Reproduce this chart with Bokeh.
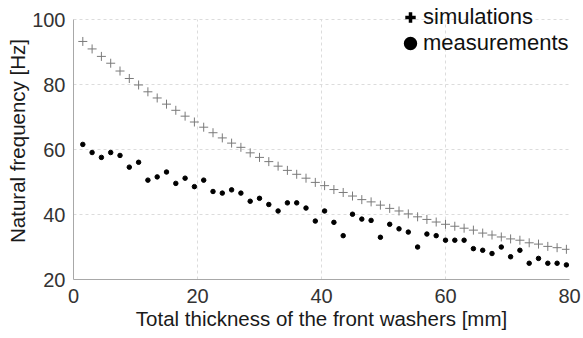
from bokeh.plotting import figure
from bokeh.models import ColumnDataSource, Legend, LegendItem, FixedTicker, Range1d
from bokeh.embed import file_html
from bokeh.resources import INLINE

# Data
thickness = [1.5 * k for k in range(1, 54)]  # 1.5 mm steps, 1.5 ... 79.5
simulations = [93.3, 91.0, 88.7, 86.6, 84.2, 81.9, 79.9, 77.8, 75.9, 74.0,
               72.1, 70.3, 68.5, 66.9, 65.2, 63.6, 62.0, 60.7, 59.0, 57.6,
               56.3, 54.9, 53.6, 52.4, 51.2, 49.9, 48.9, 47.7, 46.8, 45.7,
               44.6, 43.9, 42.9, 41.9, 41.1, 40.2, 39.3, 38.5, 37.7, 37.0,
               36.4, 35.8, 35.2, 34.3, 33.7, 33.1, 32.5, 32.1, 31.3, 30.9,
               30.2, 29.8, 29.3]
measurements = [61.6, 59.1, 57.6, 59.1, 58.2, 54.6, 56.1, 50.6, 51.6, 53.1,
                49.6, 51.2, 48.6, 50.6, 47.1, 46.6, 47.6, 46.6, 44.1, 45.0,
                43.1, 41.1, 43.6, 43.6, 42.0, 38.0, 41.1, 37.6, 33.5, 40.1,
                38.6, 38.2, 33.0, 37.0, 35.6, 34.6, 30.0, 34.0, 33.5, 32.1,
                32.1, 32.1, 29.5, 29.0, 28.0, 30.0, 27.0, 29.0, 25.0, 26.5,
                25.0, 25.0, 24.5]
x_ticks = [0, 20, 40, 60, 80]
y_ticks = [20, 40, 60, 80, 100]
series_names = ["simulations", "measurements"]

FONT = "Liberation Sans"

# y range extends a little above 100 so the legend (which sits above the top gridline) is not clipped
p = figure(width=583, height=338, output_backend="svg", toolbar_location=None,
           x_range=Range1d(0, 80), y_range=Range1d(20, 105.3),
           min_border_left=73, min_border_right=14, min_border_top=2, min_border_bottom=59)
p.outline_line_color = None
p.background_fill_color = "white"

src_sim = ColumnDataSource(dict(x=thickness, y=simulations))
src_meas = ColumnDataSource(dict(x=thickness, y=measurements))
p.scatter("x", "y", source=src_sim, marker="cross", size=9, line_color="#7a7a7a", line_width=1)
p.scatter("x", "y", source=src_meas, marker="circle", size=4.5, fill_color="black", line_color="black")

# legend-only glyphs (hidden renderers, bold symbols as in the reference legend)
leg_sim = p.scatter(x=thickness[:1], y=simulations[:1], marker="cross", size=15,
                    line_color="black", line_width=3.5, visible=False)
leg_meas = p.scatter(x=thickness[:1], y=measurements[:1], marker="circle", size=14,
                     fill_color="black", line_color="black", line_width=3, visible=False)

legend = Legend(items=[LegendItem(label=series_names[0], renderers=[leg_sim]),
                       LegendItem(label=series_names[1], renderers=[leg_meas])],
                location=(324, 223))
legend.background_fill_alpha = 0
legend.border_line_color = None
legend.padding = 0
legend.margin = 0
legend.spacing = 0
legend.glyph_width = 26
legend.glyph_height = 26
legend.label_standoff = 0
legend.label_text_font = FONT
legend.label_text_font_size = "22px"
legend.label_text_color = "#111111"
p.add_layout(legend, "center")

for ax in (p.xaxis, p.yaxis):
    ax.axis_line_color = "#a8a8a8"
    ax.axis_line_width = 1
    ax.major_tick_line_color = None
    ax.minor_tick_line_color = None
    ax.major_tick_out = 0
    ax.major_tick_in = 0
    ax.minor_tick_out = 0
    ax.major_label_text_font = FONT
    ax.major_label_text_font_size = "20px"
    ax.major_label_text_color = "#333333"
    ax.axis_label_text_font = FONT
    ax.axis_label_text_font_size = "20.5px"
    ax.axis_label_text_font_style = "normal"
    ax.axis_label_text_color = "#1a1a1a"

p.xaxis.ticker = FixedTicker(ticks=x_ticks)
p.yaxis.ticker = FixedTicker(ticks=y_ticks)
p.yaxis.bounds = (y_ticks[0], y_ticks[-1])
p.xaxis.axis_label = "Total thickness of the front washers [mm]"
p.yaxis.axis_label = "Natural frequency [Hz]"
p.xaxis.major_label_standoff = 9
p.yaxis.major_label_standoff = 8
p.xaxis.axis_label_standoff = 1
p.yaxis.axis_label_standoff = 0

for g in (p.xgrid, p.ygrid):
    g.grid_line_color = "#dcdcdc"
    g.grid_line_dash = "3 3"
    g.grid_line_width = 1
p.xgrid.cross_bounds = (y_ticks[0], y_ticks[-1])

open("out.html", "w").write(file_html(p, INLINE))
